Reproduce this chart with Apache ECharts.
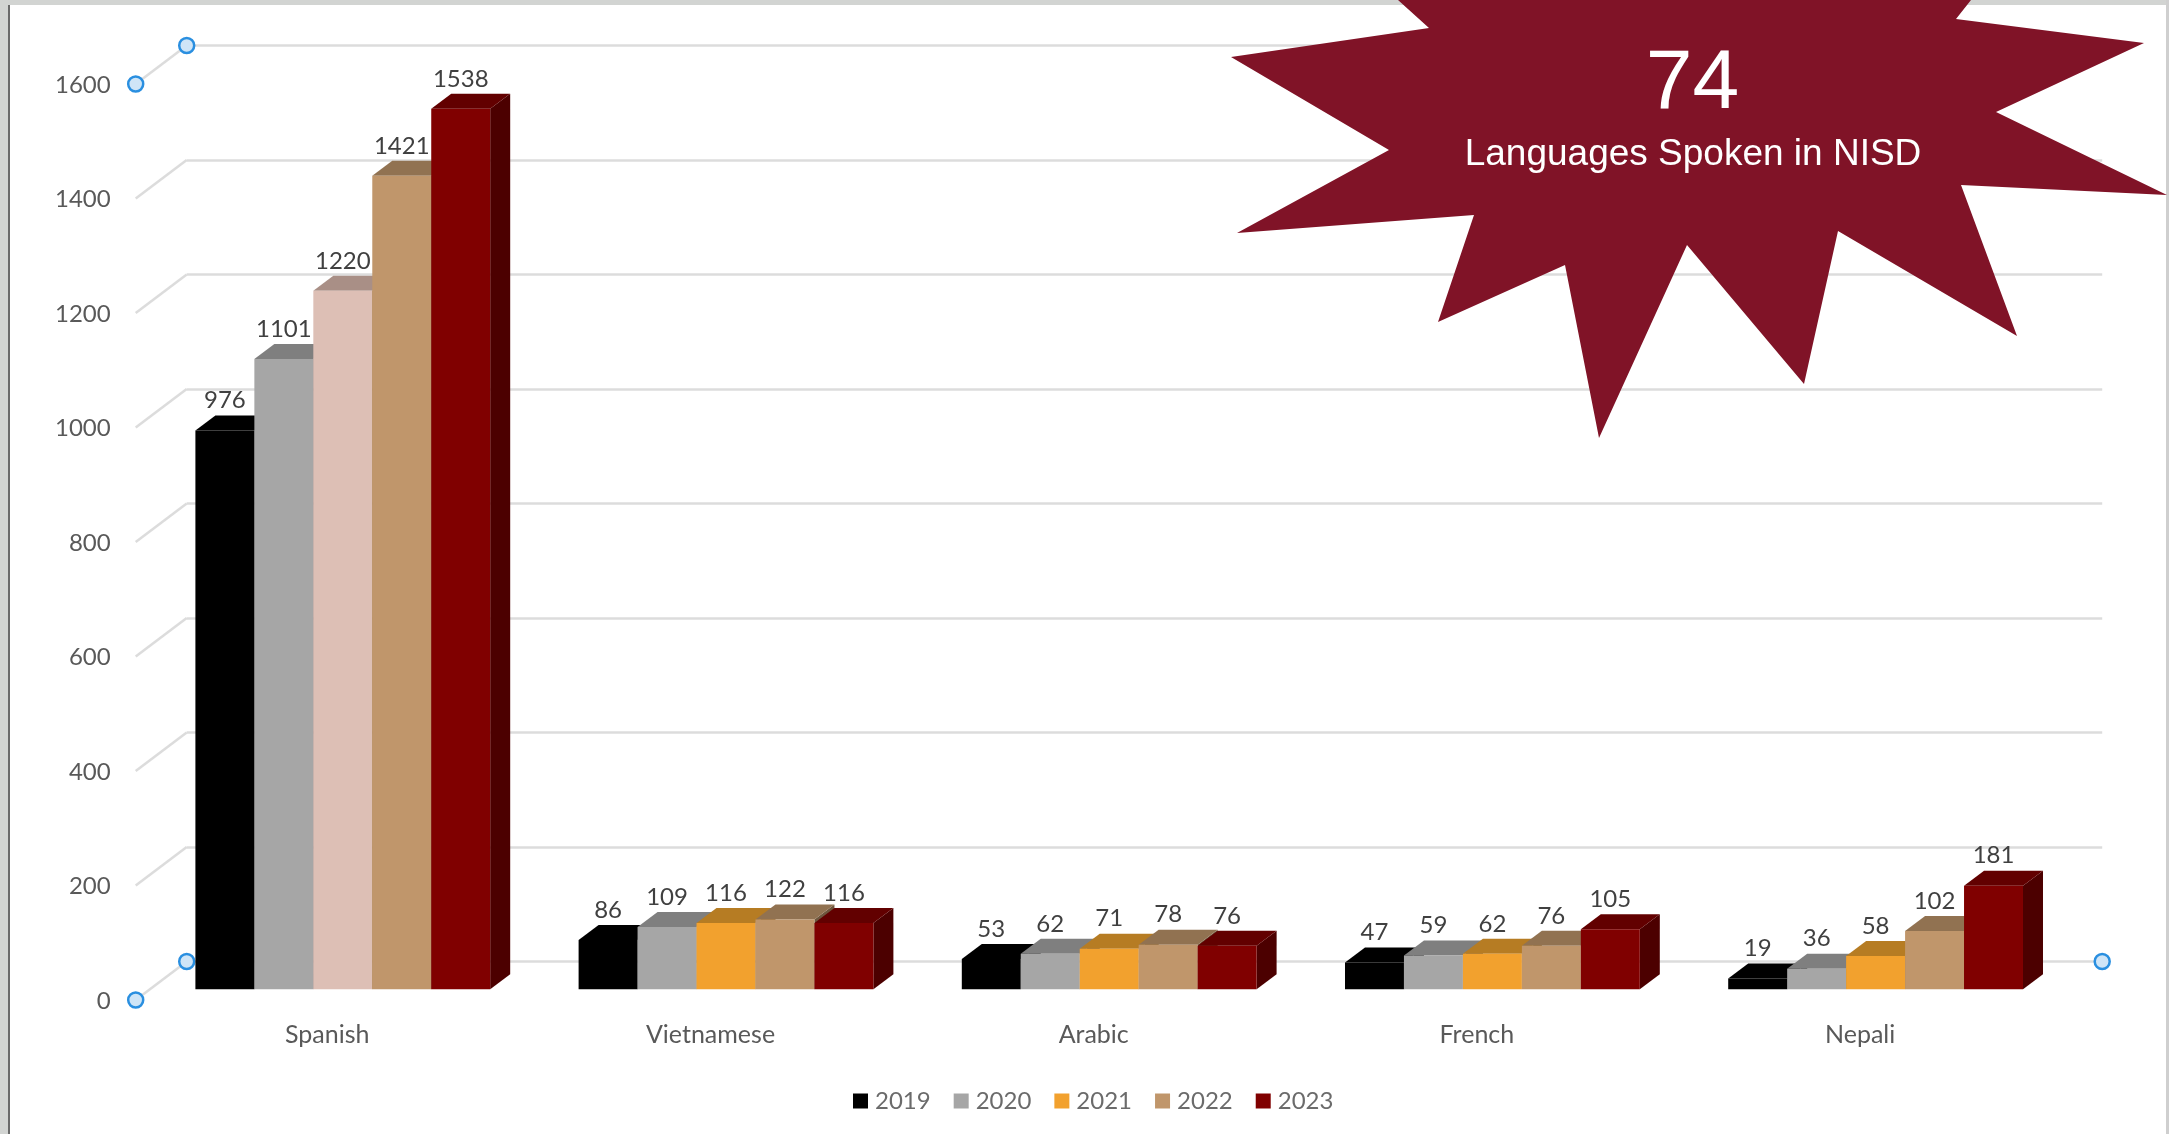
<!DOCTYPE html>
<html>
<head>
<meta charset="utf-8">
<title>Languages Spoken in NISD</title>
<style>html,body{margin:0;padding:0;background:#fff;overflow:hidden}#chart{width:2169px;height:1134px}</style>
<script src="https://cdn.jsdelivr.net/npm/echarts@6/dist/echarts.min.js"></script>
</head>
<body>
<div id="chart"></div>
<script>
// ---- data ----
const categories = ['Spanish', 'Vietnamese', 'Arabic', 'French', 'Nepali'];
const years = ['2019', '2020', '2021', '2022', '2023'];
const values2019 = [976, 86, 53, 47, 19];
const values2020 = [1101, 109, 62, 59, 36];
const values2021 = [1220, 116, 71, 62, 58];
const values2022 = [1421, 122, 78, 76, 102];
const values2023 = [1538, 116, 76, 105, 181];
const yTicks = [0, 200, 400, 600, 800, 1000, 1200, 1400, 1600];
const calloutNumber = '74';
const calloutText = 'Languages Spoken in NISD';

// ---- styling ----
const allValues = [values2019, values2020, values2021, values2022, values2023];
const faceColors = ['#000000', '#A6A6A6', '#F2A12E', '#C0966B', '#800000'];
const capColors = ['#000000', '#7F7F7F', '#B67C23', '#917251', '#620000'];
const sideColors = ['#000000', '#5F5F5F', '#8A5D1A', '#6E563D', '#4C0000'];
// Spanish 2021 is tinted differently in the reference
const overrideFace = '#DDBFB5', overrideCap = '#A98F86';
const FONT = 'Lato';
const DEPTH_X = 20, DEPTH_Y = 15;
const CATEGORY_GAP = 0.2307;

const starPoints = [[1398,0],[1429,28],[1231,57],[1389,150],[1237,233],[1474,215],[1438,322],[1565,265],[1599,438],[1687,245],[1804,384],[1838,231],[2017,336],[1961,185],[2167,195],[1996,112],[2144,43],[1956,19],[1971,0]];

const isOverride = (s, c) => s === 2 && c === 0;

function renderDepth(seriesIdx) {
  return function (params, api) {
    const c = api.value(0), v = api.value(1);
    const band = api.size([1, 0])[0];
    const w = band * (1 - CATEGORY_GAP) / years.length;
    const top = api.coord([c, v]);
    const base = api.coord([c, 0]);
    const x0 = top[0] - band * (1 - CATEGORY_GAP) / 2 + seriesIdx * w;
    const x1 = x0 + w;
    const cap = isOverride(seriesIdx, c) ? overrideCap : capColors[seriesIdx];
    return {
      type: 'group',
      children: [
        { type: 'polygon', shape: { points: [[x1, top[1]], [x1 + DEPTH_X, top[1] - DEPTH_Y], [x1 + DEPTH_X, base[1] - DEPTH_Y], [x1, base[1]]] }, style: { fill: sideColors[seriesIdx] } },
        { type: 'polygon', shape: { points: [[x0, top[1]], [x0 + DEPTH_X, top[1] - DEPTH_Y], [x1 + DEPTH_X, top[1] - DEPTH_Y], [x1, top[1]]] }, style: { fill: cap } }
      ]
    };
  };
}

function renderWallDecor(params, api) {
  const v = api.value(0);
  const p = api.coord([0, v]);
  const x = params.coordSys.x, right = x + params.coordSys.width;
  const line = { stroke: '#DCDCDC', lineWidth: 2.5 };
  const handle = { fill: '#CFE5F7', stroke: '#2A8FE0', lineWidth: 2.5 };
  const fx = x - 51, fy = p[1] + 38.5;
  const children = [{ type: 'line', shape: { x1: x, y1: p[1], x2: fx, y2: fy }, style: line }];
  if (v === 0 || v === 1600) {
    children.push({ type: 'circle', shape: { cx: x, cy: p[1], r: 7.5 }, style: handle });
    children.push({ type: 'circle', shape: { cx: fx, cy: fy, r: 7.5 }, style: handle });
  }
  if (v === 0) children.push({ type: 'circle', shape: { cx: right, cy: p[1], r: 7.5 }, style: handle });
  return { type: 'group', children };
}

const series = [];
// wall decoration: slanted side-wall lines and selection handles
series.push({
  type: 'custom', name: 'wall', xAxisIndex: 1, yAxisIndex: 1, z: 1, silent: true,
  data: yTicks.map(v => [v]), encode: { y: 0 }, renderItem: renderWallDecor, clip: false
});
// depth faces, left to right
years.forEach((y, i) => {
  series.push({
    type: 'custom', name: y, xAxisIndex: 0, yAxisIndex: 0, z: 2, silent: true, clip: false,
    itemStyle: { color: faceColors[i] },
    data: categories.map((_, c) => [c, allValues[i][c]]),
    encode: { x: 0, y: 1 },
    renderItem: renderDepth(i)
  });
});
// front faces
years.forEach((y, i) => {
  series.push({
    type: 'bar', name: y, xAxisIndex: 0, yAxisIndex: 0, z: 3,
    barGap: 0, barCategoryGap: (CATEGORY_GAP * 100) + '%',
    itemStyle: { color: faceColors[i] },
    label: { show: true, position: 'top', distance: 18, fontFamily: FONT, fontSize: 24, color: '#404040' },
    data: allValues[i].map((v, c) => isOverride(i, c) ? { value: v, itemStyle: { color: overrideFace } } : v)
  });
});

const hiddenX = { type: 'category', data: categories, axisLine: { show: false }, axisTick: { show: false }, axisLabel: { show: false } };
const hiddenY = { type: 'value', min: 0, max: 1600, interval: 200, axisLine: { show: false }, axisTick: { show: false }, axisLabel: { show: false }, splitLine: { show: false } };

const chart = echarts.init(document.getElementById('chart'), null, { renderer: 'canvas' });
chart.setOption({
  animation: false,
  backgroundColor: '#FFFFFF',
  textStyle: { fontFamily: FONT },
  grid: [
    { left: 151.2, top: 73.3, width: 1916, height: 916 },   // bars
    { left: 186.7, top: 45.5, width: 1915.5, height: 916 }, // back wall
    { left: 135.7, top: 85, width: 1916, height: 916 }      // axis labels, front edge of floor
  ],
  xAxis: [
    { ...hiddenX, gridIndex: 0 },
    { ...hiddenX, gridIndex: 1 },
    { ...hiddenX, gridIndex: 2, axisLabel: { show: true, margin: 21, fontFamily: FONT, fontSize: 25, color: '#595959' } }
  ],
  yAxis: [
    { ...hiddenY, gridIndex: 0 },
    { ...hiddenY, gridIndex: 1, splitLine: { show: true, lineStyle: { color: '#DCDCDC', width: 2.5 } } },
    { ...hiddenY, gridIndex: 2, axisLabel: { show: true, margin: 25, fontFamily: FONT, fontSize: 24, color: '#595959', formatter: v => String(v) } }
  ],
  legend: {
    data: years,
    left: 848, top: 1084,
    itemWidth: 15, itemHeight: 15, itemGap: 23,
    icon: 'rect',
    textStyle: { fontFamily: FONT, fontSize: 24, color: '#6B6B6B', padding: [0, 0, 0, 2] }
  },
  series,
  graphic: [
    { type: 'rect', z: 0, shape: { x: 0, y: 0, width: 2169, height: 5 }, style: { fill: '#D2D4D2' } },
    { type: 'rect', z: 0, shape: { x: 0, y: 0, width: 8, height: 1134 }, style: { fill: '#D2D4D2' } },
    { type: 'rect', z: 0, shape: { x: 8, y: 5, width: 2, height: 1129 }, style: { fill: '#6A6A6A' } },
    { type: 'rect', z: 0, shape: { x: 2166, y: 0, width: 3, height: 1134 }, style: { fill: '#CFCFCF' } },
    { type: 'polygon', z: 100, shape: { points: starPoints }, style: { fill: '#801327' } },
    { type: 'text', z: 101, x: 1692.5, y: 85, style: { text: calloutNumber, fill: '#FFFFFF', font: '84px "Liberation Sans"', textAlign: 'center', textVerticalAlign: 'middle' } },
    { type: 'text', z: 101, x: 1693, y: 155, style: { text: calloutText, fill: '#FFFFFF', font: '37px "Liberation Sans"', textAlign: 'center', textVerticalAlign: 'middle' } }
  ]
});
</script>
</body>
</html>
